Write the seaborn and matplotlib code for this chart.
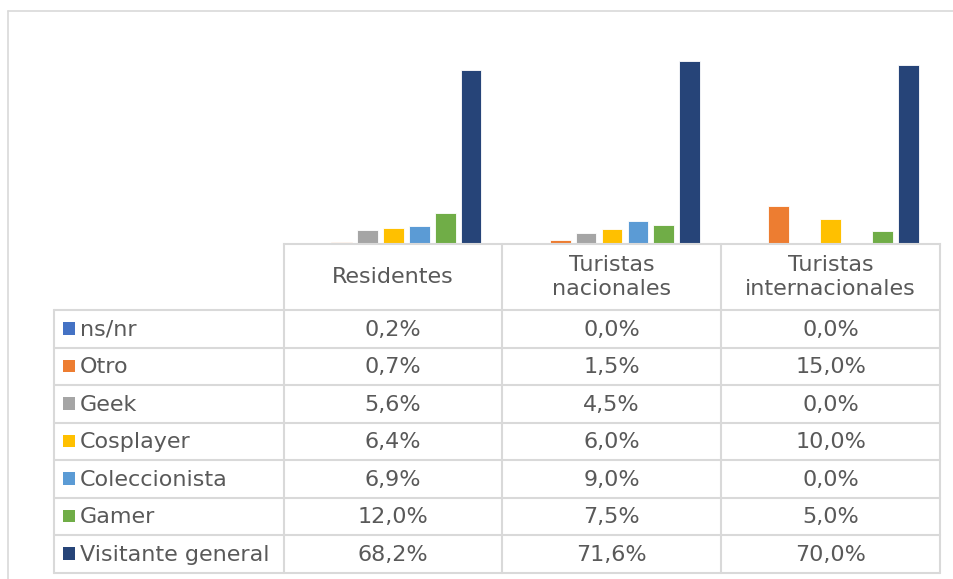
import matplotlib
matplotlib.use("Agg")
import matplotlib.pyplot as plt
import seaborn as sns
import pandas as pd
from matplotlib.lines import Line2D
from matplotlib.patches import Rectangle

# ---- data ----
grupos = ["Residentes", "Turistas nacionales", "Turistas internacionales"]
grupos_etiqueta = ["Residentes", "Turistas\nnacionales", "Turistas\ninternacionales"]
series = ["ns/nr", "Otro", "Geek", "Cosplayer", "Coleccionista", "Gamer", "Visitante general"]
ns_nr = [0.2, 0.0, 0.0]
otro = [0.7, 1.5, 15.0]
geek = [5.6, 4.5, 0.0]
cosplayer = [6.4, 6.0, 10.0]
coleccionista = [6.9, 9.0, 0.0]
gamer = [12.0, 7.5, 5.0]
visitante = [68.2, 71.6, 70.0]
colores = ["#4472C4", "#ED7D31", "#A5A5A5", "#FFC000", "#5B9BD5", "#70AD47", "#264478"]

valores = [ns_nr, otro, geek, cosplayer, coleccionista, gamer, visitante]
rows = []
for s, vals in zip(series, valores):
    for g, v in zip(grupos, vals):
        rows.append({"grupo": g, "serie": s, "valor": v})
df = pd.DataFrame(rows)

W, H = 954, 579
sns.set_theme(style="white")
plt.rcParams["font.family"] = ["DejaVu Sans"]
fig = plt.figure(figsize=(W / 100, H / 100), dpi=100)

def fx(x):
    return x / W

def fy(y):
    return 1 - y / H

# plot area (pixel coords)
L, R, T, B = 284, 940, 40, 244
ax = fig.add_axes([fx(L), fy(B), fx(R - L), (B - T) / H])
sns.barplot(data=df, x="grupo", y="valor", hue="serie", hue_order=series,
            order=grupos, palette=colores, saturation=1, width=0.83, gap=0.2,
            legend=False, ax=ax, edgecolor="white", linewidth=0.6)
ax.set_ylim(0, 80)
ax.set_xlim(-0.5, 2.5)
ax.set_xlabel("")
ax.set_ylabel("")
ax.set_xticks([])
ax.set_yticks([])
for sp in ["top", "left", "right"]:
    ax.spines[sp].set_visible(False)
ax.spines["bottom"].set_color("#d9d9d9")
ax.spines["bottom"].set_linewidth(1.5)

grid = "#d9d9d9"
txt = "#595959"

def hline(x0, x1, y, lw=1.5, c=grid):
    fig.add_artist(Line2D([fx(x0), fx(x1)], [fy(y), fy(y)], color=c, lw=lw))

def vline(x, y0, y1, lw=1.5, c=grid):
    fig.add_artist(Line2D([fx(x), fx(x)], [fy(y0), fy(y1)], color=c, lw=lw))

# outer chart border (right and bottom edges fall outside the image)
hline(8, W, 11, lw=1.2)
vline(8, 11, H, lw=1.2)

# table geometry
col_x = [284, 502, 721, 940]
left_x = 54
row_top = 310
row_h = 37.5
n = len(series)
bottom = row_top + n * row_h

for x in col_x:
    vline(x, 244, bottom)
vline(left_x, row_top, bottom)
for i in range(n + 1):
    hline(left_x, 940, row_top + i * row_h)

fs = 16
# header labels
for i, lab in enumerate(grupos_etiqueta):
    cx = (col_x[i] + col_x[i + 1]) / 2
    fig.text(fx(cx), fy(277), lab, ha="center", va="center", color=txt,
             fontsize=fs, linespacing=1.3)

# rows
for r, (s, vals, c) in enumerate(zip(series, valores, colores)):
    cy = row_top + (r + 0.5) * row_h
    fig.add_artist(Rectangle((fx(63), fy(cy + 6)), 12.5 / W, 12.5 / H,
                             facecolor=c, edgecolor="none",
                             transform=fig.transFigure))
    fig.text(fx(80), fy(cy + 1), s, ha="left", va="center", color=txt, fontsize=fs)
    for i, v in enumerate(vals):
        cx = (col_x[i] + col_x[i + 1]) / 2
        lab = f"{v:.1f}%".replace(".", ",")
        fig.text(fx(cx), fy(cy + 1), lab, ha="center", va="center", color=txt,
                 fontsize=fs)

fig.savefig("out.png", dpi=100)
